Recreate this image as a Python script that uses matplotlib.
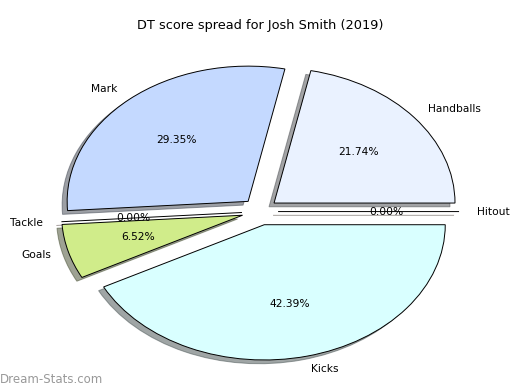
import matplotlib
matplotlib.use("Agg")
import matplotlib.pyplot as plt

labels = ["Handballs", "Mark", "Tackle", "Goals", "Kicks", "Hitout"]
values = [20, 27, 0, 6, 39, 0]
colors = ["#eaf2ff", "#c4d9ff", "#ffd0d0", "#d0ec8a", "#d9ffff", "#ffe0c0"]
explode = [0.1] * 6
title = "DT score spread for Josh Smith (2019)"

fig = plt.figure(figsize=(5.2, 3.9), dpi=100)
ax = fig.add_axes([0.065, 0.024, 0.87, 0.867])
wedges, texts, autotexts = ax.pie(values, labels=labels, colors=colors, explode=explode,
                                  autopct="%1.2f%%", shadow=True, startangle=0,
                                  wedgeprops=dict(edgecolor="black", linewidth=0.7),
                                  textprops=dict(fontsize=7.7))
ax.set_aspect("auto")
fig.text(0.5, 1 - 25 / 390, title, fontsize=9.3, ha="center", va="center")
fig.text(0.0, 0.01, "Dream-Stats.com", color="#999999", fontsize=8.5, ha="left", va="bottom")
fig.savefig("out.png", dpi=100)
